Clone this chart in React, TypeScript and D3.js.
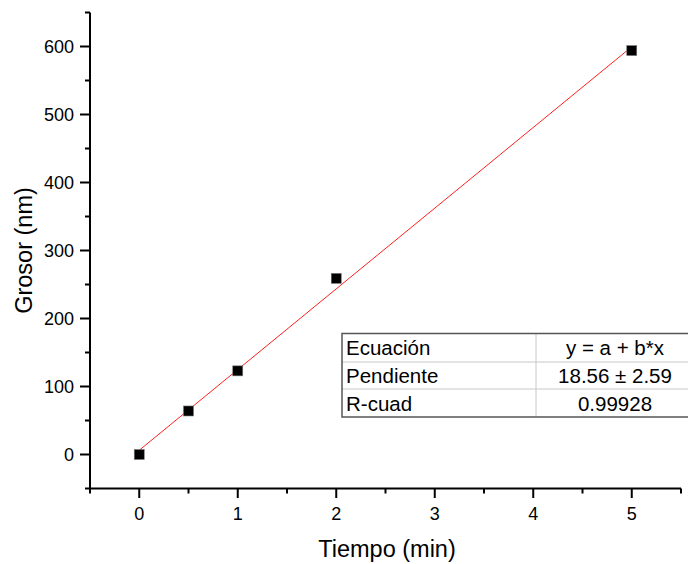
import React from "react";
import * as d3 from "d3";

const xValues = [0, 0.5, 1, 2, 5];
const yValues = [0, 64, 123, 259, 594];
const xTicks = [0, 1, 2, 3, 4, 5];
const xMinorTicks = [-0.5, 0.5, 1.5, 2.5, 3.5, 4.5, 5.5];
const yTicks = [0, 100, 200, 300, 400, 500, 600];
const yMinorTicks = [-50, 50, 150, 250, 350, 450, 550, 650];
const tableLabels = ["Ecuación", "Pendiente", "R-cuad"];
const tableValues = ["y = a + b*x", "18.56 \u00b1 2.59", "0.99928"];

const W = 688;
const H = 564;
const FONT = "'Liberation Sans', Arial, sans-serif";

export default function App() {
  const x = d3.scaleLinear().domain([-0.5, 5.5]).range([90, 681]);
  const y = d3.scaleLinear().domain([-50, 650]).range([488.5, 12.5]);

  const mx = d3.mean(xValues)!;
  const my = d3.mean(yValues)!;
  const sxy = d3.sum(xValues.map((v, i) => (v - mx) * (yValues[i] - my)));
  const sxx = d3.sum(xValues.map((v) => (v - mx) ** 2));
  const b = sxy / sxx;
  const a = my - b * mx;
  const fitX = [0, 5];
  const line = d3
    .line<number>()
    .x((d) => x(d))
    .y((d) => y(a + b * d));

  const tableX0 = 342;
  const tableX1 = 688;
  const colX = 536;
  const rowY = [333.5, 362, 389, 417];

  return (
    <svg
      width={W}
      height={H}
      style={{ position: "absolute", left: 0, top: 0, background: "#fff" }}
      fontFamily={FONT}
    >
      <rect width={W} height={H} fill="#fff" />
      {/* fit line */}
      <path d={line(fitX) ?? ""} stroke="#ff2020" strokeWidth={1} fill="none" />
      {/* points */}
      {xValues.map((v, i) => (
        <rect
          key={i}
          x={x(v) - 5}
          y={y(yValues[i]) - 5}
          width={10}
          height={10}
          fill="#000"
          stroke="#777"
          strokeWidth={0.6}
        />
      ))}
      {/* axes */}
      <line x1={90} x2={90} y1={y(650)} y2={489.5} stroke="#000" strokeWidth={2} />
      <line x1={89} x2={x(5.5)} y1={488.5} y2={488.5} stroke="#000" strokeWidth={2} />
      {yTicks.map((t) => (
        <g key={"yt" + t}>
          <line x1={80} x2={90} y1={y(t)} y2={y(t)} stroke="#000" strokeWidth={2} />
          <text x={74} y={y(t) + 6.5} textAnchor="end" fontSize={18} fill="#000">
            {t}
          </text>
        </g>
      ))}
      {yMinorTicks.map((t) => (
        <line key={"ym" + t} x1={85} x2={90} y1={y(t)} y2={y(t)} stroke="#000" strokeWidth={2} />
      ))}
      {xTicks.map((t) => (
        <g key={"xt" + t}>
          <line x1={x(t)} x2={x(t)} y1={488.5} y2={498} stroke="#000" strokeWidth={2} />
          <text x={x(t)} y={520} textAnchor="middle" fontSize={18} fill="#000">
            {t}
          </text>
        </g>
      ))}
      {xMinorTicks.map((t) => (
        <line key={"xm" + t} x1={x(t)} x2={x(t)} y1={488.5} y2={493.5} stroke="#000" strokeWidth={2} />
      ))}
      <text x={387} y={557} textAnchor="middle" fontSize={23.5} fill="#000">
        Tiempo (min)
      </text>
      <text
        transform={`translate(32, ${y(300)}) rotate(-90)`}
        textAnchor="middle"
        fontSize={23.5}
        fill="#000"
      >
        Grosor (nm)
      </text>
      {/* table */}
      <g>
        <rect x={tableX0} y={rowY[0]} width={tableX1 - tableX0} height={rowY[3] - rowY[0]} fill="#fff" />
        {rowY.slice(1, 3).map((ry) => (
          <line key={ry} x1={tableX0} x2={tableX1} y1={ry} y2={ry} stroke="#c8c8c8" strokeWidth={1} />
        ))}
        <line x1={colX} x2={colX} y1={rowY[0]} y2={rowY[3]} stroke="#c8c8c8" strokeWidth={1} />
        <rect
          x={tableX0}
          y={rowY[0]}
          width={tableX1 - tableX0 + 2}
          height={rowY[3] - rowY[0]}
          fill="none"
          stroke="#555"
          strokeWidth={1.5}
        />
        {tableLabels.map((l, i) => (
          <text key={l} x={346} y={(rowY[i] + rowY[i + 1]) / 2 + 7.5} fontSize={20.5} fill="#000">
            {l}
          </text>
        ))}
        {tableValues.map((v, i) => (
          <text
            key={v}
            x={615}
            y={(rowY[i] + rowY[i + 1]) / 2 + 7.5}
            textAnchor="middle"
            fontSize={20.5}
            fill="#000"
          >
            {v}
          </text>
        ))}
      </g>
    </svg>
  );
}
